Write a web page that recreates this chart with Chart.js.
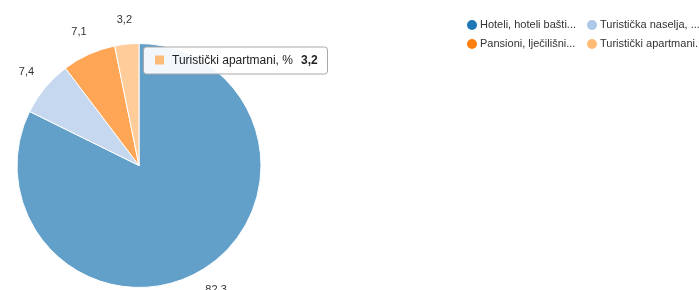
<!DOCTYPE html>
<html>
<head>
<meta charset="utf-8">
<script src="https://cdn.jsdelivr.net/npm/chart.js@4.4.1/dist/chart.umd.min.js"></script>
<style>
  html, body { margin: 0; padding: 0; background: #fff; overflow: hidden; }
  #wrap { width: 699px; height: 290px; }
</style>
</head>
<body>
<div id="wrap"><canvas id="pie" width="699" height="290"></canvas></div>
<script>
// podaci
const kategorije = [
    'Hoteli, hoteli baštine, %',
    'Turistička naselja, %',
    'Pansioni, lječilišni objekti, %',
    'Turistički apartmani, %'
];
const udjeli = [82.3, 7.4, 7.1, 3.2];
const bojeLegende = ['#1f77b4', '#aec7e8', '#ff7f0e', '#ffbb78'];
const bojeKriski = ['rgba(31,119,180,0.7)', 'rgba(174,199,232,0.7)', 'rgba(255,127,14,0.7)', 'rgba(255,187,120,0.75)'];
const aktivniIndeks = 3;

const FONT = '"Liberation Sans", Arial, sans-serif';
const fmt = (v) => v.toFixed(1).replace('.', ',');
const skrati = (s) => s.length > 20 ? s.slice(0, 20) + '...' : s;

// oznake vrijednosti izvan kriški
const vanjskeOznake = {
    id: 'vanjskeOznake',
    afterDatasetsDraw(chart) {
        const ctx = chart.ctx;
        const meta = chart.getDatasetMeta(0);
        ctx.save();
        ctx.font = '11px ' + FONT;
        ctx.fillStyle = '#333';
        ctx.textAlign = 'center';
        ctx.textBaseline = 'middle';
        meta.data.forEach((arc, i) => {
            const kut = (arc.startAngle + arc.endAngle) / 2;
            const r = arc.outerRadius + 24;
            ctx.fillText(fmt(udjeli[i]), arc.x + Math.cos(kut) * r, arc.y + Math.sin(kut) * r);
        });
        ctx.restore();
    }
};

// legenda u dva stupca, gore desno
const legenda = {
    id: 'legenda',
    afterDraw(chart) {
        const ctx = chart.ctx;
        ctx.save();
        ctx.font = '11px ' + FONT;
        ctx.textBaseline = 'middle';
        kategorije.forEach((k, i) => {
            const x = 472 + (i % 2) * 120;
            const y = 25 + Math.floor(i / 2) * 19;
            ctx.fillStyle = bojeLegende[i];
            ctx.beginPath();
            ctx.arc(x, y, 5, 0, Math.PI * 2);
            ctx.fill();
            ctx.fillStyle = '#333';
            ctx.fillText(skrati(k), x + 8, y);
        });
        ctx.restore();
    }
};

// okvir s opisom aktivne kriške
const opis = {
    id: 'opis',
    afterDraw(chart) {
        const arc = chart.getDatasetMeta(0).data[aktivniIndeks];
        if (!arc) return;
        const ctx = chart.ctx;
        const x = arc.x + 4, y = arc.y - arc.outerRadius + 3;
        const w = 184, h = 27;
        ctx.save();
        ctx.fillStyle = 'rgba(255,255,255,0.92)';
        ctx.strokeStyle = '#a8a8a8';
        ctx.lineWidth = 1;
        ctx.beginPath();
        ctx.roundRect(x + 0.5, y + 0.5, w, h, 3);
        ctx.fill();
        ctx.stroke();
        ctx.fillStyle = bojeLegende[aktivniIndeks];
        ctx.fillRect(x + 12, y + 9, 9, 9);
        ctx.font = '12px ' + FONT;
        ctx.fillStyle = '#222';
        ctx.textBaseline = 'middle';
        ctx.fillText(kategorije[aktivniIndeks], x + 29, y + 14);
        ctx.font = 'bold 12px ' + FONT;
        ctx.fillText(fmt(udjeli[aktivniIndeks]), x + 158, y + 14);
        ctx.restore();
    }
};

new Chart(document.getElementById('pie'), {
    type: 'pie',
    data: {
        labels: kategorije,
        datasets: [{
            data: udjeli,
            backgroundColor: bojeKriski,
            borderColor: '#fff',
            borderWidth: 1
        }]
    },
    options: {
        responsive: false,
        animation: false,
        devicePixelRatio: 1,
        layout: { padding: { left: 16, right: 437, top: 43, bottom: 2 } },
        plugins: {
            legend: { display: false },
            tooltip: { enabled: false }
        }
    },
    plugins: [vanjskeOznake, legenda, opis]
});
</script>
</body>
</html>
